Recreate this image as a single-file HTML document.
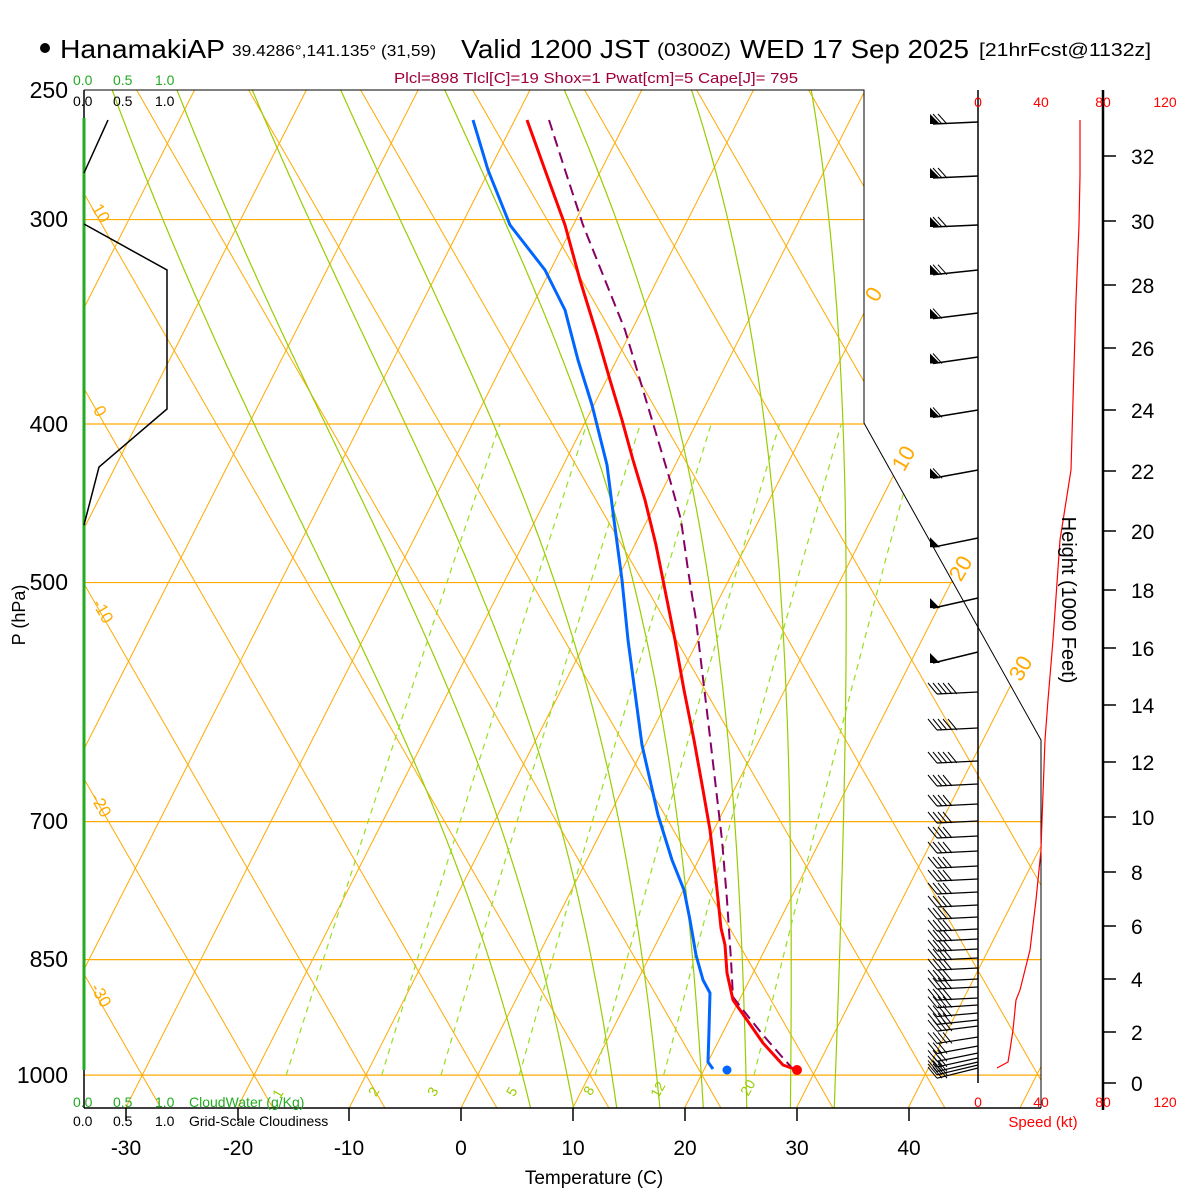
<!DOCTYPE html>
<html><head><meta charset="utf-8"><style>
html,body{margin:0;padding:0;background:#fff;}
svg{display:block;font-family:"Liberation Sans",sans-serif;}
</style></head><body>
<svg id="s" width="1200" height="1200" viewBox="0 0 1200 1200" xmlns="http://www.w3.org/2000/svg">
<defs><clipPath id="cp"><polygon points="84,90 864,90 864,423 1041,740 1041,1108 84,1108"/></clipPath></defs>
<rect width="1200" height="1200" fill="#fff"/>
<g id="grid" clip-path="url(#cp)" fill="none"></g>
<polyline points="84,90 864,90 864,423 1041,740 1041,1108" fill="none" stroke="#000" stroke-width="1"/>
<line x1="84" y1="1108" x2="1041" y2="1108" stroke="#000" stroke-width="1.5"/>
<line x1="84" y1="90" x2="84" y2="118" stroke="#000" stroke-width="1.5"/>
<line x1="84" y1="118" x2="84" y2="1070" stroke="#22aa22" stroke-width="3"/>
<line x1="84" y1="1070" x2="84" y2="1108" stroke="#000" stroke-width="1.5"/>
<polyline points="108,120 84,173" fill="none" stroke="#000" stroke-width="1.5"/>
<polyline points="84,224 167,270 167,409 99,467 84,525" fill="none" stroke="#000" stroke-width="1.5"/>
<g id="prof" fill="none"></g>
<g id="wind"></g>
<g stroke="#000" stroke-width="1.5">
<line x1="126" y1="1108" x2="126" y2="1121"/><line x1="238" y1="1108" x2="238" y2="1121"/><line x1="349" y1="1108" x2="349" y2="1121"/><line x1="461" y1="1108" x2="461" y2="1121"/><line x1="573" y1="1108" x2="573" y2="1121"/><line x1="685" y1="1108" x2="685" y2="1121"/><line x1="797" y1="1108" x2="797" y2="1121"/><line x1="909" y1="1108" x2="909" y2="1121"/>
</g>
<g font-size="21" text-anchor="middle" fill="#000">
<text x="126" y="1155">-30</text><text x="238" y="1155">-20</text><text x="349" y="1155">-10</text><text x="461" y="1155">0</text><text x="573" y="1155">10</text><text x="685" y="1155">20</text><text x="797" y="1155">30</text><text x="909" y="1155">40</text>
<text x="594" y="1184" font-size="19">Temperature (C)</text>
</g>
<g font-size="23" text-anchor="end" fill="#000">
<text x="68" y="98">250</text><text x="68" y="227">300</text><text x="68" y="432">400</text><text x="68" y="590">500</text><text x="68" y="829">700</text><text x="68" y="967">850</text><text x="68" y="1083">1000</text>
</g>
<text transform="translate(25,615) rotate(-90)" font-size="18" text-anchor="middle">P (hPa)</text>
<g font-size="14">
<text x="73" y="85" fill="#22aa22">0.0</text><text x="113" y="85" fill="#22aa22">0.5</text><text x="155" y="85" fill="#22aa22">1.0</text>
<text x="73" y="106" fill="#000">0.0</text><text x="113" y="106" fill="#000">0.5</text><text x="155" y="106" fill="#000">1.0</text>
<text x="73" y="1107" fill="#22aa22">0.0</text><text x="113" y="1107" fill="#22aa22">0.5</text><text x="155" y="1107" fill="#22aa22">1.0</text><text x="189" y="1107" fill="#22aa22">CloudWater (g/Kg)</text>
<text x="73" y="1126" fill="#000">0.0</text><text x="113" y="1126" fill="#000">0.5</text><text x="155" y="1126" fill="#000">1.0</text><text x="189" y="1126" fill="#000">Grid-Scale Cloudiness</text>
</g>
<g font-size="22" fill="#ffaa00" text-anchor="middle">
<text transform="translate(880,298) rotate(-60)">0</text>
<text transform="translate(910,462) rotate(-60)">10</text>
<text transform="translate(967,572) rotate(-60)">20</text>
<text transform="translate(1027,672) rotate(-60)">30</text>
</g>
<g font-size="17" fill="#ffaa00" text-anchor="middle">
<text transform="translate(96,216) rotate(60)">10</text>
<text transform="translate(95,414) rotate(60)">0</text>
<text transform="translate(98,614) rotate(60)">-10</text>
<text transform="translate(96,808) rotate(60)">-20</text>
<text transform="translate(96,998) rotate(60)">-30</text>
</g>
<g font-size="14" fill="#99cc00" text-anchor="middle">
<text transform="translate(282,1096) rotate(-60)">1</text>
<text transform="translate(378,1094) rotate(-60)">2</text>
<text transform="translate(437,1094) rotate(-60)">3</text>
<text transform="translate(516,1094) rotate(-60)">5</text>
<text transform="translate(593,1093) rotate(-60)">8</text>
<text transform="translate(662,1092) rotate(-60)">12</text>
<text transform="translate(752,1090) rotate(-60)">20</text>
</g>
<line x1="978" y1="90" x2="978" y2="1083" stroke="#000" stroke-width="1.5"/>
<line x1="1103" y1="90" x2="1103" y2="1110" stroke="#000" stroke-width="2.5"/>
<g font-size="14" fill="#ff0000" text-anchor="middle">
<text x="978" y="107">0</text><text x="1041" y="107">40</text><text x="1103" y="107">80</text><text x="1165" y="107">120</text>
<text x="978" y="1107">0</text><text x="1041" y="1107">40</text><text x="1103" y="1107">80</text><text x="1165" y="1107">120</text>
<text x="1043" y="1127" font-size="15">Speed (kt)</text>
</g>
<g id="hax"></g>
<g font-size="21" fill="#000">
<text x="1131" y="1091">0</text><text x="1131" y="1040">2</text><text x="1131" y="987">4</text><text x="1131" y="934">6</text><text x="1131" y="880">8</text><text x="1131" y="825">10</text><text x="1131" y="770">12</text><text x="1131" y="713">14</text><text x="1131" y="656">16</text><text x="1131" y="598">18</text><text x="1131" y="539">20</text><text x="1131" y="479">22</text><text x="1131" y="418">24</text><text x="1131" y="356">26</text><text x="1131" y="293">28</text><text x="1131" y="229">30</text><text x="1131" y="164">32</text>
</g>
<text transform="translate(1062,600) rotate(90)" font-size="20" text-anchor="middle">Height (1000 Feet)</text>
<circle cx="45" cy="48" r="5" fill="#000"/>
<text x="60" y="58" font-size="26" textLength="165" lengthAdjust="spacingAndGlyphs">HanamakiAP</text>
<text x="232" y="56" font-size="16" textLength="204" lengthAdjust="spacingAndGlyphs">39.4286°,141.135° (31,59)</text>
<text x="461" y="58" font-size="26" textLength="189" lengthAdjust="spacingAndGlyphs">Valid 1200 JST</text>
<text x="657" y="56" font-size="18" textLength="74" lengthAdjust="spacingAndGlyphs">(0300Z)</text>
<text x="740" y="58" font-size="26" textLength="229" lengthAdjust="spacingAndGlyphs">WED 17 Sep 2025</text>
<text x="979" y="56" font-size="18" textLength="172" lengthAdjust="spacingAndGlyphs">[21hrFcst@1132z]</text>
<text x="394" y="83" font-size="15" fill="#a0003c" textLength="404" lengthAdjust="spacingAndGlyphs">Plcl=898 Tlcl[C]=19 Shox=1 Pwat[cm]=5 Cape[J]= 795</text>
</svg>
<script>
(function(){
var NS="http://www.w3.org/2000/svg";
function Y(p){return 90+710.6*Math.log(p/250);}
function X(T,y){return 461+11.18*T+0.507*(1108-y);}
function el(parent,tag,attrs){var e=document.createElementNS(NS,tag);for(var k in attrs)e.setAttribute(k,attrs[k]);parent.appendChild(e);return e;}
function pl(parent,pts,attrs){attrs.points=pts.map(function(q){return q[0].toFixed(1)+","+q[1].toFixed(1);}).join(" ");attrs.fill="none";return el(parent,"polyline",attrs);}
var g=document.getElementById("grid");
var OR="#ffaa00";
[300,400,500,700,850,1000].forEach(function(p){var y=Y(p);el(g,"line",{x1:84,y1:y,x2:1041,y2:y,stroke:OR,"stroke-width":1.2});});
for(var T=-130;T<=60;T+=10){el(g,"line",{x1:X(T,1108),y1:1108,x2:X(T,90),y2:90,stroke:OR,"stroke-width":1});}
for(var k=-3;k<=20;k++){var xb=142+112*k;el(g,"line",{x1:xb+0.574*33,y1:1108,x2:xb-0.574*985,y2:90,stroke:OR,"stroke-width":1});}
function dTdp(T,p){var tc=T-273.15;var es=6.112*Math.exp(17.67*tc/(tc+243.5));var rs=0.622*es/(p-es);return (287*T+2.5e6*rs)/(p*(1004+2.5e6*2.5e6*rs*0.622/(287*T*T)));}
for(var tw=4;tw<=32;tw+=4){var pts=[];var Tk=tw+273.15;var dn=[];var T2=Tk;for(var p=1000;p<1060;p+=2){dn.push([p,T2]);T2+=dTdp(T2,p)*2;}
dn.reverse().forEach(function(a){var y=Y(a[0]);pts.push([X(a[1]-273.15,y),y]);});
for(var p=1000;p>=240;p-=2){var y=Y(p);pts.push([X(Tk-273.15,y),y]);Tk-=dTdp(Tk,p)*2;}
pl(g,pts,{stroke:"#99cc00","stroke-width":1.2});}
[1,2,3,5,8,12,20].forEach(function(w){var pts=[];for(var p=1000;p>=400;p-=10){var e=w*p/(622+w);var l=Math.log(e/6.112);var td=243.5*l/(17.67-l);var y=Y(p);pts.push([X(td,y),y]);}pl(g,pts,{stroke:"#99dd22","stroke-width":1.2,"stroke-dasharray":"6,5"});});
var pr=document.getElementById("prof");
pl(pr,[[473,120],[488,170],[510,225],[545,270],[565,310],[578,360],[592,405],[607,465],[614,520],[622,580],[628,640],[636,700],[642,745],[658,815],[672,860],[684,890],[690,920],[696,955],[703,980],[710,993],[709,1030],[708,1062],[713,1069]],{stroke:"#0066ff","stroke-width":3,"stroke-linejoin":"round"});
pl(pr,[[549,120],[565,170],[583,225],[605,280],[625,330],[640,380],[655,430],[670,480],[681,520],[688,570],[696,620],[702,670],[708,720],[715,780],[722,840],[727,900],[731,960],[733,997],[743,1010],[763,1035],[783,1058],[792,1068]],{stroke:"#880066","stroke-width":2,"stroke-dasharray":"11,6"});
pl(pr,[[527,120],[545,170],[565,225],[580,280],[597,335],[610,380],[622,420],[633,460],[645,500],[656,545],[666,595],[675,640],[684,690],[694,740],[703,790],[710,830],[716,880],[721,928],[725,945],[727,973],[733,1000],[747,1020],[763,1043],[783,1065],[797,1070]],{stroke:"#ff0000","stroke-width":3,"stroke-linejoin":"round"});
el(pr,"circle",{cx:797,cy:1070,r:5,fill:"#ff0000"});
el(pr,"circle",{cx:727,cy:1070,r:4.5,fill:"#0066ff"});
pl(pr,[[997,1068],[1008,1062],[1010,1050],[1013,1030],[1016,1000],[1020,990],[1030,950],[1036,900],[1041,850],[1042,820],[1045,740],[1048,700],[1053,640],[1060,540],[1071,470],[1073,400],[1076,300],[1079,225],[1080,175],[1080,120]],{stroke:"#ff0000","stroke-width":1.2});
var w=document.getElementById("wind");
var up=[122,176,225,270,313,357,410,470,538,598,652];
up.forEach(function(y,i){var dy=i<3?0:Math.min(3+(i-3),10)*0.9;el(w,"line",{x1:978,y1:y,x2:933,y2:y+dy+2,stroke:"#000","stroke-width":1.5});
var b=y+dy+2;el(w,"polygon",{points:"930,"+b+" 930,"+(b-10)+" 940,"+b,fill:"#000"});
var nb=i<4?2:(i<8?1:0);for(var k=0;k<nb;k++){var x0=942+k*5;el(w,"line",{x1:x0,y1:b,x2:x0-9,y2:b-10,stroke:"#000","stroke-width":1});}});
var lo=[692,728,761,784,804,821,836,851,866,879,892,905,917,929,939,949,958,968,979,987,998,1005,1013,1020,1026,1037,1046,1053,1058,1062,1065,1068];
lo.forEach(function(y,i){var dy=(y>1000)?(y-1000)*0.12:0;el(w,"line",{x1:978,y1:y,x2:937,y2:y+2+dy,stroke:"#000","stroke-width":1.2});
var nb=i<3?5:(y>1040?3:4);for(var k=0;k<nb;k++){var x0=937+k*5;el(w,"line",{x1:x0,y1:y+2+dy,x2:x0-9,y2:y-9+dy,stroke:"#000","stroke-width":1});}});
var h=document.getElementById("hax");
[1083,1032,979,926,872,817,762,705,648,590,531,471,410,348,285,221,156].forEach(function(y){el(h,"line",{x1:1103,y1:y,x2:1116,y2:y,stroke:"#000","stroke-width":1.5});});
})();
</script>
</body></html>
